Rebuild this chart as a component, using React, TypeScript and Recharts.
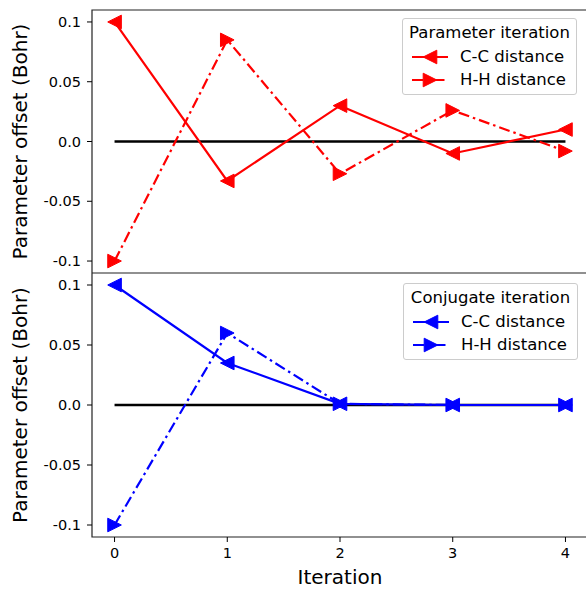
import React from "react";
import {
  LineChart,
  Line,
  XAxis,
  YAxis,
  ReferenceLine,
  ReferenceArea,
} from "recharts";

const iterations = [0, 1, 2, 3, 4];
const paramCC = [0.1, -0.033, 0.03, -0.01, 0.01];
const paramHH = [-0.1, 0.085, -0.027, 0.026, -0.008];
const conjCC = [0.1, 0.035, 0.001, 0, 0];
const conjHH = [-0.1, 0.06, 0.001, 0, 0];
const yTicks = [-0.1, -0.05, 0, 0.05, 0.1];
const xTicks = [0, 1, 2, 3, 4];

const paramData = iterations.map((it, i) => ({ it, cc: paramCC[i], hh: paramHH[i] }));
const conjData = iterations.map((it, i) => ({ it, cc: conjCC[i], hh: conjHH[i] }));

const FONT = "DejaVu Sans, sans-serif";
const X_DOMAIN: [number, number] = [-0.2, 4.2];
const Y_DOMAIN: [number, number] = [-0.11, 0.11];
const DASH = "11,4,2.5,4";

const fmt = (v: number) => (v === 0 ? "0.0" : String(v));

const Tri = ({ cx, cy, dir, color }: any) => {
  if (cx == null || cy == null) return null;
  const s = 6.8;
  const pts =
    dir === "left"
      ? `${cx - s},${cy} ${cx + s},${cy - s} ${cx + s},${cy + s}`
      : `${cx + s},${cy} ${cx - s},${cy - s} ${cx - s},${cy + s}`;
  return <polygon points={pts} fill={color} stroke={color} strokeWidth={1} />;
};

const dotFn = (dir: string, color: string) => (props: any) => (
  <Tri key={`d-${dir}-${props.index}`} cx={props.cx} cy={props.cy} dir={dir} color={color} />
);

const LegendBox = ({ title, color, style }: any) => (
  <div
    style={{
      position: "absolute",
      border: "1px solid #cccccc",
      borderRadius: 3,
      background: "rgba(255,255,255,0.85)",
      fontFamily: FONT,
      fontSize: 16.5,
      color: "#000",
      padding: "2px 6px 3px 6px",
      width: 161,
      whiteSpace: "nowrap",
      ...style,
    }}
  >
    <div style={{ textAlign: "center", lineHeight: "24px" }}>{title}</div>
    {[
      { name: "C-C distance", dir: "left", dash: undefined },
      { name: "H-H distance", dir: "right", dash: DASH },
    ].map((e) => (
      <div key={e.name} style={{ display: "flex", alignItems: "center", height: 23 }}>
        <svg width={38} height={16} style={{ marginLeft: 2, marginRight: 11, flex: "none" }}>
          <line x1={1} y1={8} x2={37} y2={8} stroke={color} strokeWidth={2.2} strokeDasharray={e.dash} />
          <Tri cx={19} cy={8} dir={e.dir} color={color} />
        </svg>
        <span>{e.name}</span>
      </div>
    ))}
  </div>
);

const yLabel = {
  value: "Parameter offset (Bohr)",
  angle: -90,
  position: "insideLeft" as const,
  offset: 20,
  style: { textAnchor: "middle", fontSize: 20, fontFamily: FONT, fill: "#000" },
};

const tickStyle = { fontSize: 14.5, fontFamily: FONT, fill: "#000" };

const Panel = ({ data, color, height, showX, margin }: any) => (
  <LineChart width={590} height={height} data={data} margin={margin}>
    <XAxis
      dataKey="it"
      type="number"
      domain={X_DOMAIN}
      ticks={xTicks}
      allowDataOverflow
      height={showX ? 52 : 0}
      tick={showX ? tickStyle : false}
      tickLine={showX ? { stroke: "#000" } : false}
      tickSize={5}
      tickMargin={6}
      axisLine={false}
      label={
        showX
          ? {
              value: "Iteration",
              position: "insideBottom",
              offset: 5,
              style: { fontSize: 20, fontFamily: FONT, fill: "#000" },
            }
          : undefined
      }
    />
    <YAxis
      type="number"
      domain={Y_DOMAIN}
      ticks={yTicks}
      allowDataOverflow
      width={92}
      tick={tickStyle}
      tickFormatter={fmt}
      tickLine={{ stroke: "#000" }}
      tickSize={5}
      tickMargin={6}
      axisLine={false}
      label={yLabel}
    />
    <ReferenceArea
      x1={X_DOMAIN[0]}
      x2={X_DOMAIN[1]}
      y1={Y_DOMAIN[0]}
      y2={Y_DOMAIN[1]}
      fill="none"
      fillOpacity={0}
      stroke="#222"
      strokeWidth={1.2}
      ifOverflow="visible"
    />
    <ReferenceLine
      segment={[
        { x: 0, y: 0 },
        { x: 4, y: 0 },
      ]}
      stroke="#000"
      strokeWidth={2.6}
    />
    <Line
      dataKey="cc"
      stroke={color}
      strokeWidth={2.2}
      dot={dotFn("left", color)}
      activeDot={false}
      isAnimationActive={false}
    />
    <Line
      dataKey="hh"
      stroke={color}
      strokeWidth={2.2}
      strokeDasharray={DASH}
      dot={dotFn("right", color)}
      activeDot={false}
      isAnimationActive={false}
    />
  </LineChart>
);

export default function App() {
  return (
    <div
      style={{
        position: "absolute",
        left: 0,
        top: 0,
        width: 586,
        height: 589,
        background: "#fff",
        overflow: "hidden",
      }}
    >
      <div style={{ position: "absolute", left: 0, top: 0 }}>
        <Panel data={paramData} color="#ff0000" height={273} showX={false} margin={{ top: 10, right: 2, bottom: 0, left: 0 }} />
      </div>
      <div style={{ position: "absolute", left: 0, top: 273 }}>
        <Panel data={conjData} color="#0000ff" height={316} showX={true} margin={{ top: 0, right: 2, bottom: 0, left: 0 }} />
      </div>
      <LegendBox title="Parameter iteration" color="#ff0000" style={{ left: 402, top: 18 }} />
      <LegendBox title="Conjugate iteration" color="#0000ff" style={{ left: 403, top: 283 }} />
    </div>
  );
}
